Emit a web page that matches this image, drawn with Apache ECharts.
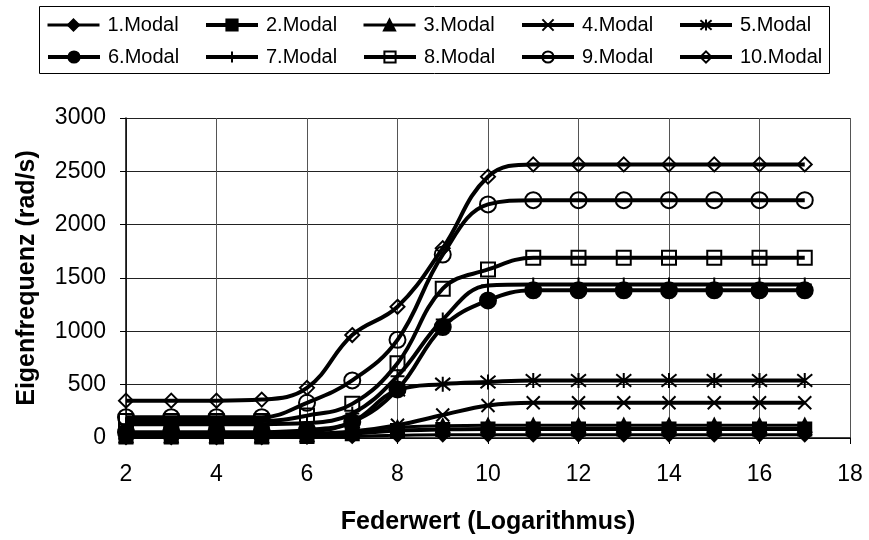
<!DOCTYPE html>
<html>
<head>
<meta charset="utf-8">
<script src="https://cdn.jsdelivr.net/npm/echarts@6/dist/echarts.min.js"></script>
<style>
  html, body { margin: 0; padding: 0; background: #fff; }
  #chart { width: 869px; height: 540px; }
</style>
</head>
<body>
<div id="chart"></div>
<script>
// Federwert (log) on x, eigenfrequencies of the first ten modes on y
const xValues = [2, 3, 4, 5, 6, 7, 8, 9, 10, 11, 12, 13, 14, 15, 16, 17];
const modal1  = [5, 5, 5, 5, 8, 15, 25, 30, 30, 30, 30, 30, 30, 30, 30, 30];
const modal2  = [10, 10, 10, 10, 15, 40, 70, 80, 85, 85, 85, 85, 85, 85, 85, 85];
const modal3  = [20, 20, 20, 20, 30, 60, 100, 115, 120, 120, 120, 120, 120, 120, 120, 120];
const modal4  = [25, 25, 25, 25, 35, 60, 120, 215, 305, 330, 330, 330, 330, 330, 330, 330];
const modal5  = [45, 45, 45, 45, 60, 150, 450, 505, 525, 540, 540, 540, 540, 540, 540, 540];
const modal6  = [55, 55, 55, 55, 75, 150, 455, 1040, 1290, 1385, 1385, 1385, 1385, 1385, 1385, 1385];
const modal7  = [130, 130, 130, 130, 140, 230, 580, 1110, 1430, 1440, 1440, 1440, 1440, 1440, 1440, 1440];
const modal8  = [160, 160, 160, 160, 210, 320, 700, 1400, 1580, 1690, 1690, 1690, 1690, 1690, 1690, 1690];
const modal9  = [195, 195, 195, 195, 330, 540, 920, 1720, 2190, 2230, 2230, 2230, 2230, 2230, 2230, 2230];
const modal10 = [350, 350, 350, 360, 470, 965, 1230, 1780, 2450, 2565, 2565, 2565, 2565, 2565, 2565, 2565];
const seriesNames = ['1.Modal', '2.Modal', '3.Modal', '4.Modal', '5.Modal',
                     '6.Modal', '7.Modal', '8.Modal', '9.Modal', '10.Modal'];
const yTicks = { min: 0, max: 3000, step: 500 };
const xTicks = { min: 2, max: 18, step: 2 };

const allValues = [modal1, modal2, modal3, modal4, modal5, modal6, modal7, modal8, modal9, modal10];

// marker shapes
const X_PATH = 'path://M0,0L10,10M10,0L0,10';
const STAR_PATH = 'path://M0,0L10,10M10,0L0,10M5,-1L5,11';
const PLUS_PATH = 'path://M5,0L5,10M0,5L10,5';

const markers = [
  { symbol: 'diamond',  size: 13, fill: '#000',  lw: 3 },
  { symbol: 'rect',     size: 13, fill: '#000',  lw: 4 },
  { symbol: 'triangle', size: 13, fill: '#000',  lw: 3 },
  { symbol: X_PATH,     size: 13, fill: 'none',  lw: 4 },
  { symbol: STAR_PATH,  size: 15, fill: 'none',  lw: 4 },
  { symbol: 'circle',   size: 16, fill: '#000',  lw: 4 },
  { symbol: PLUS_PATH,  size: 14, fill: 'none',  lw: 4 },
  { symbol: 'rect',     size: 14, fill: 'none',  lw: 4 },
  { symbol: 'circle',   size: 16, fill: 'none',  lw: 4 },
  { symbol: 'diamond',  size: 14, fill: 'none',  lw: 4 }
];

const series = allValues.map((vals, i) => ({
  name: seriesNames[i],
  type: 'line',
  smooth: 0.4,
  data: xValues.map((x, k) => [x, vals[k]]),
  symbol: markers[i].symbol,
  symbolSize: markers[i].size,
  showSymbol: true,
  lineStyle: { color: '#000', width: markers[i].lw },
  itemStyle: { color: markers[i].fill, borderColor: '#000', borderWidth: 2 },
  emphasis: { disabled: true },
  animation: false
}));

// one legend per entry, laid out in a 5 x 2 grid
const legends = seriesNames.map((name, i) => ({
  data: [name],
  left: 46 + (i % 5) * 158,
  top: 15 + Math.floor(i / 5) * 32,
  padding: 0,
  itemWidth: 52,
  itemHeight: 14,
  selectedMode: false,
  lineStyle: { color: '#000', width: markers[i].lw },
  textStyle: { fontFamily: 'Liberation Sans', fontSize: 20, color: '#000', padding: [0, 0, 0, 3] }
}));

const chart = echarts.init(document.getElementById('chart'));
chart.setOption({
  backgroundColor: '#fff',
  animation: false,
  legend: legends,
  graphic: [{
    type: 'rect',
    shape: { x: 39.5, y: 6.5, width: 790, height: 67 },
    style: { fill: 'none', stroke: '#000', lineWidth: 1 },
    z: -1
  }],
  grid: { left: 126, right: 19, top: 118, bottom: 97 },
  xAxis: {
    type: 'value',
    min: xTicks.min, max: xTicks.max, interval: xTicks.step,
    name: 'Federwert (Logarithmus)',
    nameLocation: 'middle',
    nameGap: 72,
    nameTextStyle: { fontFamily: 'Liberation Sans', fontSize: 25, fontWeight: 'bold', color: '#000' },
    axisLine: { lineStyle: { color: '#000', width: 1.5 } },
    axisTick: { show: true, length: 6, lineStyle: { color: '#000' } },
    axisLabel: { fontFamily: 'Liberation Sans', fontSize: 23, color: '#000', margin: 25 },
    splitLine: { show: true, lineStyle: { color: '#555', width: 1 } }
  },
  yAxis: {
    type: 'value',
    min: yTicks.min, max: yTicks.max, interval: yTicks.step,
    name: 'Eigenfrequenz (rad/s)',
    nameLocation: 'middle',
    nameGap: 86,
    nameTextStyle: { fontFamily: 'Liberation Sans', fontSize: 25, fontWeight: 'bold', color: '#000' },
    axisLine: { show: true, lineStyle: { color: '#000', width: 1.5 } },
    axisTick: { show: true, length: 6, lineStyle: { color: '#000' } },
    axisLabel: {
      fontFamily: 'Liberation Sans', fontSize: 23, color: '#000', margin: 20,
      formatter: v => String(v)
    },
    splitLine: { show: true, lineStyle: { color: '#222', width: 1 } }
  },
  series: series
});
</script>
</body>
</html>
